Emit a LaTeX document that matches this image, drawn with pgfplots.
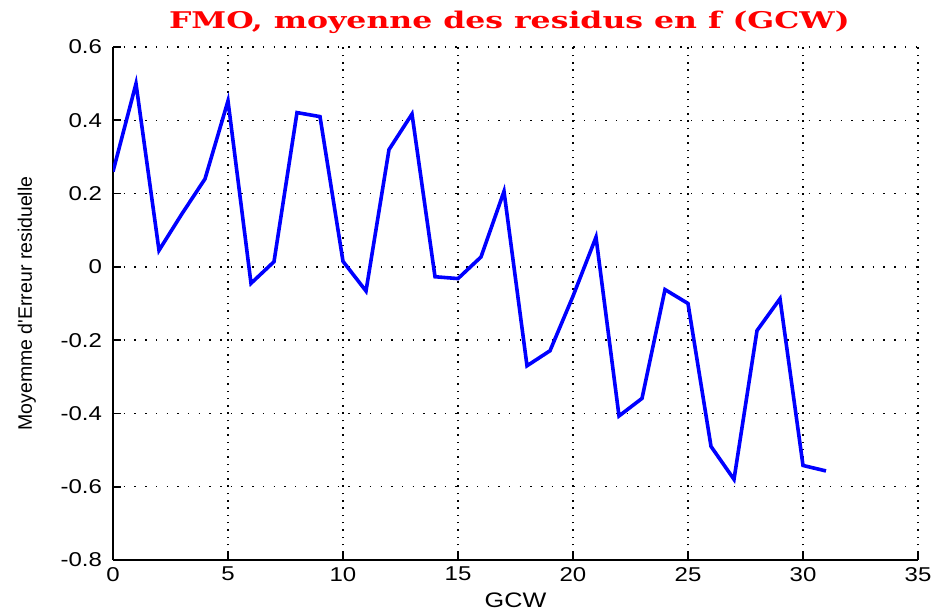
\documentclass[border=0pt]{standalone}
\usepackage{pgfplots}
\pgfplotsset{compat=1.18}
\usepackage{fontspec}
\setmainfont[FakeStretch=1.2]{Liberation Sans}
\newfontfamily\plainsans{Liberation Sans}
\newfontfamily\titlefont[FakeStretch=1.37]{DejaVu Serif}
\definecolor{mblue}{RGB}{0,0,255}
\begin{document}
\begin{tikzpicture}
\path[use as bounding box] (0,0) rectangle (465.5pt,307pt);
\begin{axis}[
  scale only axis,
  width=402.5pt, height=256.5pt,
  at={(56.5pt,27pt)}, anchor=south west,
  xmin=0, xmax=35, ymin=-0.8, ymax=0.6,
  xtick={0,5,...,35},
  ytick={-0.8,-0.6,-0.4,-0.2,0,0.2,0.4,0.6},
  yticklabels={-0.8,-0.6,-0.4,-0.2,0,0.2,0.4,0.6},
  axis x line*=bottom, axis y line*=left,
  axis line style={line width=0.8pt,-},
  tick align=inside,
  major tick length=4pt,
  tick style={line width=0.8pt,black},
  grid=major,
  x grid style={black,line width=0.75pt,dash pattern=on 0.75pt off 2.9pt},
  y grid style={black,line width=0.75pt,dash pattern=on 0.75pt off 4.6pt},
  /pgf/number format/assume math mode=true,
  ticklabel style={font=\fontsize{10}{12}\selectfont},
  yticklabel style={xshift=-2pt},
  xlabel={GCW},
  xlabel style={font=\fontsize{10.5}{12}\selectfont, at={(axis description cs:0.5,-0.078)}, anchor=center},
  ylabel={Moyemme d'Erreur residuelle},
  ylabel style={font=\plainsans\fontsize{9.75}{11}\selectfont, at={(axis description cs:-0.107,0.5)}, anchor=center},
  title={FMO, moyenne des residus en f (GCW)},
  every axis title shift=0pt,
  title style={font=\titlefont\bfseries\fontsize{11.5}{13}\selectfont, text=red, at={(axis description cs:0.4925,1)}, anchor=center, yshift=12.5pt},
]
\addplot[mblue, line width=1.8pt, line join=miter] coordinates {
(0,0.26) (1,0.50) (2,0.045) (3,0.145) (4,0.24) (5,0.453) (6,-0.045) (7,0.014)
(8,0.421) (9,0.41) (10,0.015) (11,-0.066) (12,0.32) (13,0.417) (14,-0.027) (15,-0.032)
(16,0.027) (17,0.206) (18,-0.27) (19,-0.229) (20,-0.08) (21,0.081) (22,-0.407) (23,-0.359)
(24,-0.062) (25,-0.10) (26,-0.49) (27,-0.58) (28,-0.174) (29,-0.087) (30,-0.542) (31,-0.557)
};
\end{axis}
\end{tikzpicture}
\end{document}
